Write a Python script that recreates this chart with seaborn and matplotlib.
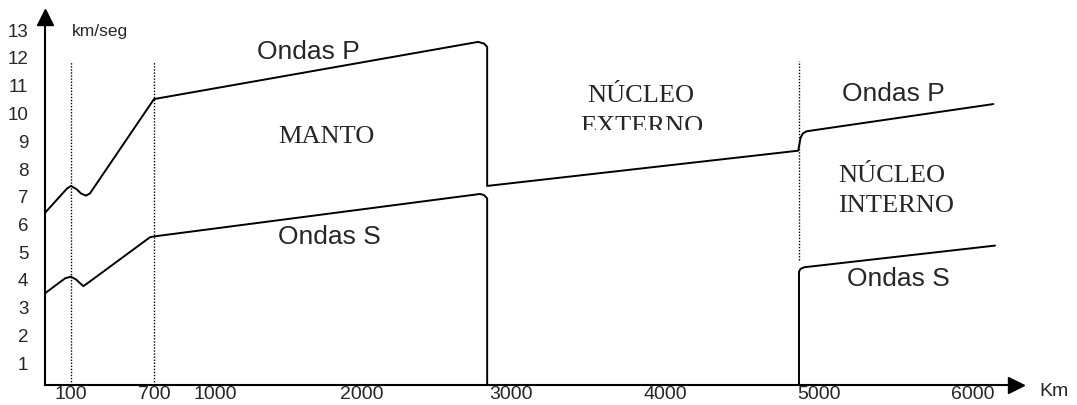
import numpy as np
import matplotlib
matplotlib.use("Agg")
import matplotlib.pyplot as plt
import matplotlib.transforms as mtransforms
import pandas as pd
import seaborn as sns

# Ondas P: manto + nucleo externo + nucleo interno (una sola linea)
p_km = [0, 85, 100, 141, 172, 208, 237, 700, 2779, 2819, 2840,
        2840, 4865, 4873, 4880, 4895, 4920, 6132]
p_vel = [6.42, 7.30, 7.39, 7.27, 7.12, 7.04, 7.12, 10.52, 12.58, 12.52, 12.40,
         7.39, 8.66, 8.90, 9.12, 9.28, 9.36, 10.34]

# Ondas S: manto (se cortan en el nucleo externo) y nucleo interno
s_manto_km = [0, 77, 99, 136, 189, 213, 671, 700, 2792, 2819, 2840, 2840]
s_manto_vel = [3.52, 4.06, 4.12, 4.02, 3.78, 3.86, 5.54, 5.57, 7.10, 7.06, 6.94, 0]
s_interno_km = [4870, 4870, 4880, 4905, 6143]
s_interno_vel = [0, 4.30, 4.40, 4.46, 5.24]

# discontinuidades punteadas
disc_km = [100, 700, 4870]
disc_top = [11.9, 11.9, 11.9]
disc_bottom = [0, 0, 4.72]

x_ticks = [100, 700, 1000, 2000, 3000, 4000, 5000, 6000]
y_ticks = list(range(1, 14))

# eje de profundidad deformado como en el dibujo original
ANCLA_KM = [-1000, 0, 100, 700, 1000, 2000, 3000, 4000, 5000, 6000, 8000]
ANCLA_PX = [-215, 45, 71, 154, 215, 362, 511, 665, 819, 973, 1281]


def fwd(x):
    return np.interp(x, ANCLA_KM, ANCLA_PX)


def inv(p):
    return np.interp(p, ANCLA_PX, ANCLA_KM)


sns.set_style("white")
sans = ["Liberation Sans", "DejaVu Sans"]
serif = ["Liberation Serif", "DejaVu Serif"]
plt.rcParams["font.family"] = sans

W, H = 1077, 405
fig = plt.figure(figsize=(W / 100, H / 100), dpi=100)
ax_left, ax_right, ax_bottom, ax_top = 45, 1016, 385, 17
ax = fig.add_axes([ax_left / W, (H - ax_bottom) / H,
                   (ax_right - ax_left) / W, (ax_bottom - ax_top) / H])
ax.set_xscale("function", functions=(fwd, inv))

lw = 1.4
p_df = pd.DataFrame({"km": p_km, "vel": p_vel})
sns.lineplot(data=p_df, x="km", y="vel", sort=False, estimator=None,
             color="black", lw=lw, ax=ax)
sns.lineplot(x=s_manto_km, y=s_manto_vel, sort=False, estimator=None,
             color="black", lw=lw, ax=ax)
sns.lineplot(x=s_interno_km, y=s_interno_vel, sort=False, estimator=None,
             color="black", lw=lw, ax=ax)

ax.vlines(disc_km, disc_bottom, disc_top, colors="black", lw=1.0,
          linestyles=(0, (1, 1.2)))

ax.set_xlim(0, inv(ax_right))
ax.set_ylim((391 - ax_bottom) / 27.75, (391 - ax_top) / 27.75)
ax.set_xticks(x_ticks, labels=[str(t) for t in x_ticks])
ax.set_yticks(y_ticks, labels=[str(t) for t in y_ticks])
ax.tick_params(axis="both", length=0)
ax.tick_params(axis="x", pad=1, labelsize=14)
ax.tick_params(axis="y", pad=12, labelsize=13.5)
ax.set_xlabel("")
ax.set_ylabel("")

sns.despine(ax=ax)
for side in ["left", "bottom"]:
    ax.spines[side].set_linewidth(1.5)
    ax.spines[side].set_color("black")
ax.plot([1], [0], marker=">", ms=11, color="black", transform=ax.transAxes,
        clip_on=False)
ax.plot([0], [1], marker="^", ms=11, color="black", transform=ax.transAxes,
        clip_on=False)

ax.text(107, 12.97, "km/seg", ha="left", va="center", fontsize=12.5)
fig.text(1054 / W, 1 - 391 / H, "Km", ha="center", va="center", fontsize=14)

ax.text(1633, 12.22, "Ondas P", ha="center", va="center", fontsize=19)
ax.text(1776, 5.55, "Ondas S", ha="center", va="center", fontsize=19)
ax.text(5481, 10.72, "Ondas P", ha="center", va="center", fontsize=19)
ax.text(5513, 4.02, "Ondas S", ha="center", va="center", fontsize=19)

ax.text(1755, 9.15, "MANTO", ha="center", va="center", fontsize=19, family=serif)
ax.text(3844, 10.41, "NÚCLEO", ha="center", va="baseline", fontsize=19,
        family=serif)
t = ax.text(3851, 9.30, "EXTERNO", ha="center", va="baseline", fontsize=19,
            family=serif)
clip = mtransforms.TransformedBbox(
    mtransforms.Bbox([[3000, 9.40], [5000, 13]]), ax.transData)
t.set_clip_box(clip)
t.set_clip_on(True)
ax.text(5474, 7.73, "NÚCLEO", ha="center", va="center", fontsize=19, family=serif)
ax.text(5500, 6.65, "INTERNO", ha="center", va="center", fontsize=19, family=serif)

fig.savefig("out.png", dpi=100)
